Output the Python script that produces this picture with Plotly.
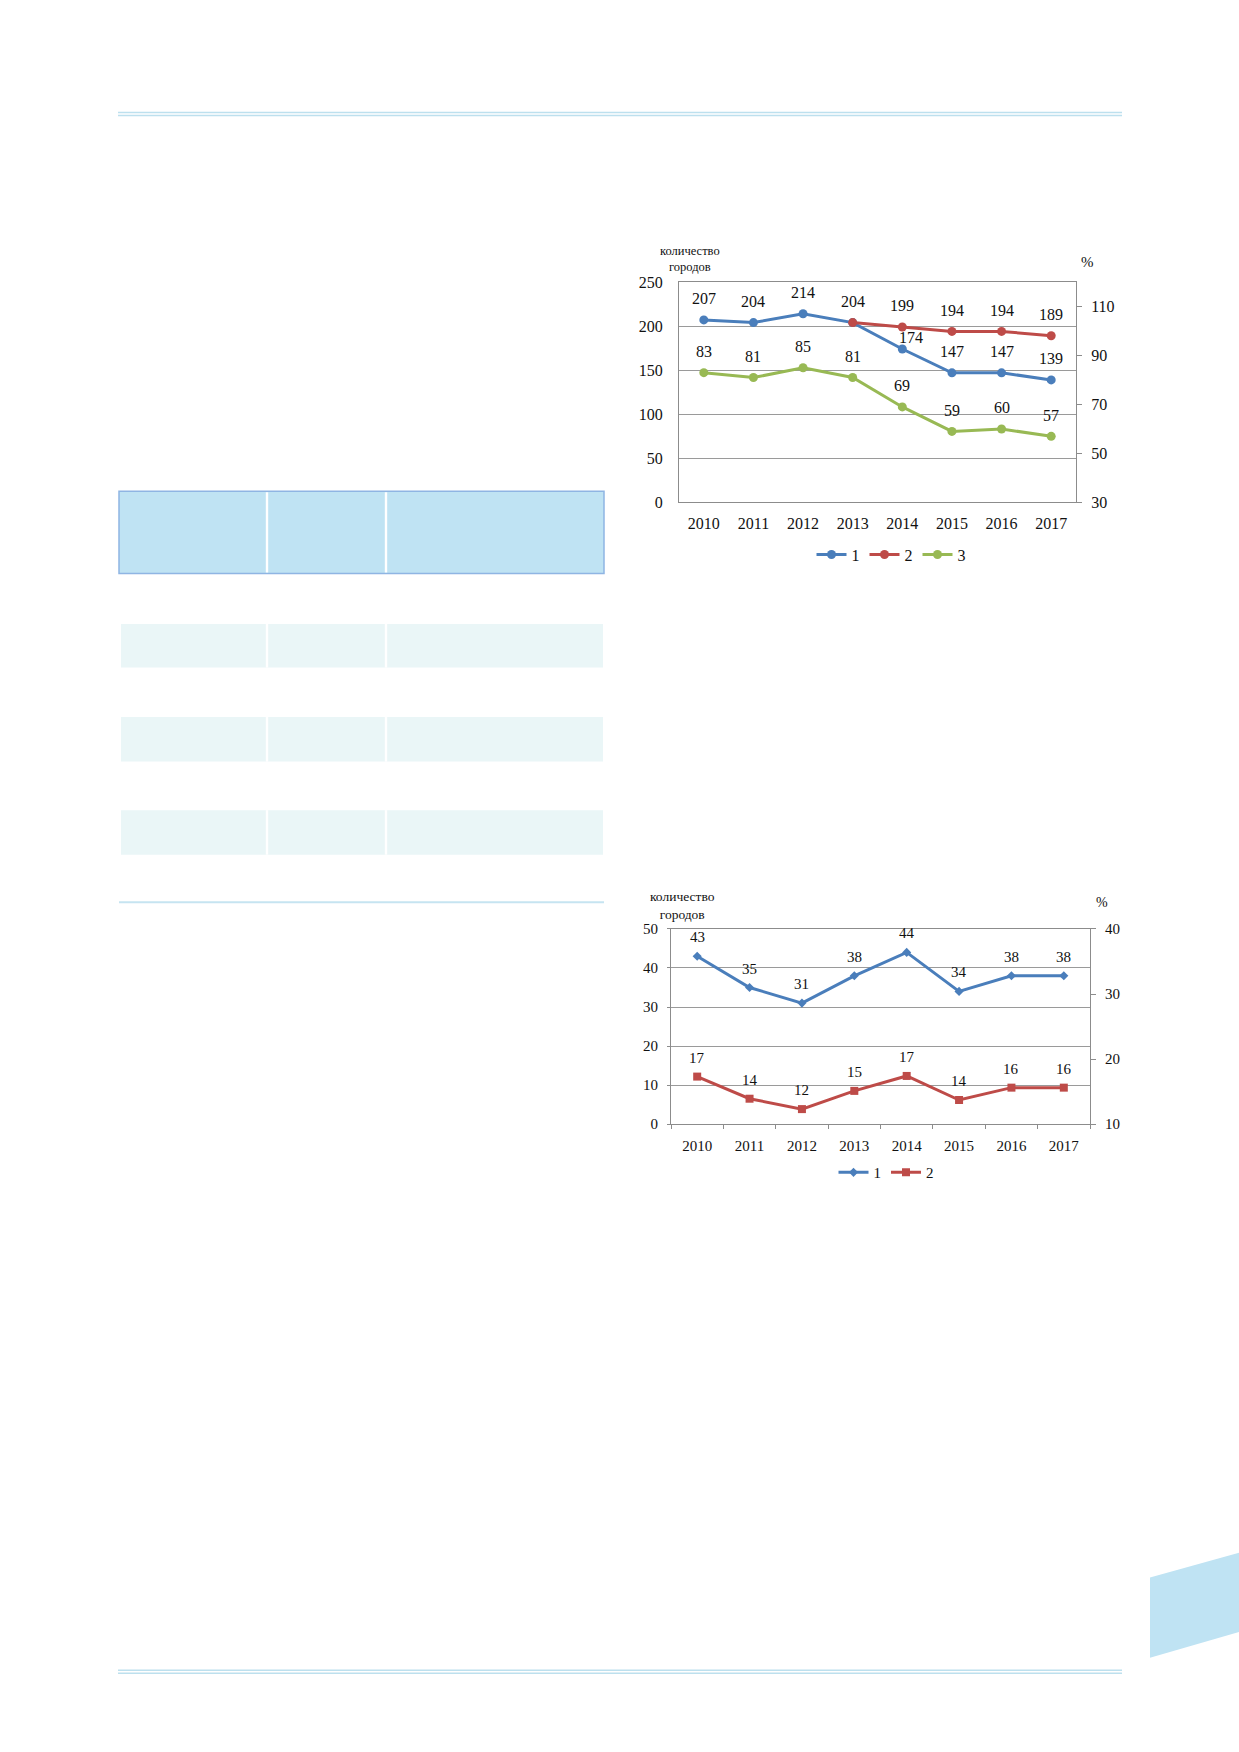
import plotly.graph_objects as go

W, H = 1239, 1752

# chart 1: cities count (left) and share, % (right)
years = ["2010", "2011", "2012", "2013", "2014", "2015", "2016", "2017"]
cities_1 = [207, 204, 214, 204, 174, 147, 147, 139]
cities_2 = [None, None, None, 204, 199, 194, 194, 189]
pct_3 = [83, 81, 85, 81, 69, 59, 60, 57]

# chart 2
cities_b1 = [43, 35, 31, 38, 44, 34, 38, 38]
pct_b2 = [17.3, 13.9, 12.3, 15.1, 17.4, 13.7, 15.6, 15.6]

pos = list(range(len(years)))  # category slots on the x axes

BLUE = "#4a7ebb"
RED = "#be4b48"
GREEN = "#98b954"
GRID = "#9a9a9a"
AXIS = "#8c8c8c"
FONT = "Liberation Serif"
PAGE_BLUE = "#bfe3f3"


def px(x):
    return x / W


def py(y):
    return 1 - y / H


fig = go.Figure()

# chart 1 traces
fig.add_trace(go.Scatter(x=pos, y=cities_1, name="1", mode="lines+markers",
                         line=dict(color=BLUE, width=3), marker=dict(size=9, color=BLUE),
                         xaxis="x", yaxis="y", legend="legend"))
fig.add_trace(go.Scatter(x=pos, y=cities_2, name="2", mode="lines+markers",
                         line=dict(color=RED, width=3), marker=dict(size=9, color=RED),
                         xaxis="x", yaxis="y", legend="legend"))
fig.add_trace(go.Scatter(x=pos, y=pct_3, name="3", mode="lines+markers",
                         line=dict(color=GREEN, width=3), marker=dict(size=9, color=GREEN),
                         xaxis="x", yaxis="y2", legend="legend"))

# chart 2 traces
fig.add_trace(go.Scatter(x=pos, y=cities_b1, name="1", mode="lines+markers",
                         line=dict(color=BLUE, width=3),
                         marker=dict(size=7, color=BLUE, symbol="diamond"),
                         xaxis="x2", yaxis="y3", legend="legend2"))
fig.add_trace(go.Scatter(x=pos, y=pct_b2, name="2", mode="lines+markers",
                         line=dict(color=RED, width=3),
                         marker=dict(size=8, color=RED, symbol="square"),
                         xaxis="x2", yaxis="y4", legend="legend2"))

annotations = []
placed = set()


def add_labels(ys, xref, yref, size, shift, nudge=None):
    nudge = nudge or {}
    for x, v in zip(pos, ys):
        if v is None:
            continue
        txt = f"{v:.0f}"
        key = (xref, x, txt)
        if key in placed:  # same point already labelled by another series
            continue
        placed.add(key)
        dx, dy = nudge.get(x, (0, shift))
        annotations.append(dict(x=x, y=v, xref=xref, yref=yref, text=txt,
                                showarrow=False, xshift=dx, yshift=dy,
                                font=dict(family=FONT, size=size, color="#111")))


add_labels(cities_1, "x", "y", 16, 21, nudge={4: (9, 12)})
add_labels(cities_2, "x", "y", 16, 21)
add_labels(pct_3, "x", "y2", 16, 21)
add_labels(cities_b1, "x2", "y3", 15, 19)
add_labels(pct_b2, "x2", "y4", 15, 19)

# axis titles
for x, y, t, s in [(690, 253, "количество<br>городов", 12.5),
                   (1087, 256, "%", 15),
                   (682, 906, "количество<br>городов", 13.5),
                   (1102, 903, "%", 14)]:
    annotations.append(dict(x=px(x), y=py(y), xref="paper", yref="paper", text=t,
                            showarrow=False, xanchor="center", yanchor="middle",
                            font=dict(family=FONT, size=s, color="#111")))

# page decoration
shapes = []


def hline(x0, x1, y, color, w):
    shapes.append(dict(type="line", xref="paper", yref="paper", x0=px(x0), x1=px(x1),
                       y0=py(y), y1=py(y), line=dict(color=color, width=w)))


def rect(x0, y0, x1, y1, fill, line=None, lw=0):
    shapes.append(dict(type="rect", xref="paper", yref="paper", x0=px(x0), x1=px(x1),
                       y0=py(y0), y1=py(y1), fillcolor=fill,
                       line=dict(color=line or fill, width=lw), layer="below"))


hline(118, 1122, 105.5, "#bde0ee", 1.5)
hline(118, 1122, 108.5, "#bde0ee", 1.5)
hline(118, 1122, 1678.5, "#bde0ee", 1.5)
hline(118, 1122, 1681.5, "#bde0ee", 1.5)

rect(119, 488, 604, 571, PAGE_BLUE, "#8fb5e3", 1.5)
for x in (267, 386):
    rect(x - 1.2, 489, x + 1.2, 570, "white")
for y0, y1 in [(622, 666), (716, 761), (810, 855)]:
    rect(121, y0, 603, y1, "#eaf6f7")
    for x in (267, 386):
        rect(x - 1.2, y0, x + 1.2, y1, "white")
hline(119, 604, 903, "#c6e4f1", 2)

shapes.append(dict(type="path", xref="paper", yref="paper",
                   path=f"M {px(1150)},{py(1585)} L {px(1239)},{py(1560)} "
                        f"L {px(1239)},{py(1640)} L {px(1150)},{py(1666)} Z",
                   fillcolor=PAGE_BLUE, line=dict(width=0), layer="below"))

tick_font = dict(family=FONT, size=16, color="#111")
tick_font2 = dict(family=FONT, size=15, color="#111")
bounds = [i - 0.5 for i in range(len(years) + 1)]

fig.update_layout(
    width=W, height=H, margin=dict(l=0, r=0, t=0, b=0),
    paper_bgcolor="white", plot_bgcolor="white",
    font=dict(family=FONT, color="#111"),
    showlegend=True,
    xaxis=dict(domain=[px(679), px(1076)], anchor="y", range=[-0.5, 7.5],
               tickvals=pos, ticktext=years, showline=True, linecolor=AXIS,
               mirror=True, ticks="", showgrid=False, zeroline=False,
               tickfont=tick_font, ticklabelstandoff=6),
    yaxis=dict(domain=[py(499.3), py(276.7)], anchor="x", range=[0, 250], dtick=50,
               showline=True, linecolor=AXIS, showgrid=True, gridcolor=GRID,
               ticks="", tickfont=tick_font, ticklabelstandoff=12, zeroline=False),
    yaxis2=dict(overlaying="y", anchor="x", side="right", range=[30, 120],
                tickvals=[30, 50, 70, 90, 110], showline=True, linecolor=AXIS,
                showgrid=False, ticks="outside", ticklen=5, tickcolor=AXIS,
                tickfont=tick_font, ticklabelstandoff=6, zeroline=False),
    xaxis2=dict(domain=[px(671), px(1090)], anchor="y3", range=[-0.5, 7.5],
                tickvals=pos, ticktext=years, showline=True, linecolor=AXIS,
                mirror=True, ticks="", showgrid=False, zeroline=False,
                minor=dict(tickmode="array", tickvals=bounds, ticks="outside",
                           ticklen=4, tickcolor=AXIS, showgrid=False),
                tickfont=tick_font2, ticklabelstandoff=8),
    yaxis3=dict(domain=[py(1127), py(930)], anchor="x2", range=[0, 50], dtick=10,
                showline=True, linecolor=AXIS, showgrid=True, gridcolor=GRID,
                ticks="outside", ticklen=3, tickcolor=AXIS,
                tickfont=tick_font2, ticklabelstandoff=6, zeroline=False),
    yaxis4=dict(overlaying="y3", anchor="x2", side="right", range=[10, 40], dtick=10,
                showline=True, linecolor=AXIS, showgrid=False, ticks="outside",
                ticklen=5, tickcolor=AXIS, tickfont=tick_font2, ticklabelstandoff=6,
                zeroline=False),
    legend=dict(orientation="h", x=px(891), y=py(552), xanchor="center",
                yanchor="middle", font=dict(family=FONT, size=16, color="#111"),
                bgcolor="rgba(0,0,0,0)", itemwidth=30),
    legend2=dict(orientation="h", x=px(886), y=py(1176), xanchor="center",
                 yanchor="middle", font=dict(family=FONT, size=15, color="#111"),
                 bgcolor="rgba(0,0,0,0)", itemwidth=30),
    annotations=annotations,
    shapes=shapes,
)

fig.write_html("out.html", config={"displayModeBar": False},
               post_script="document.body.style.margin='0';"
                           "document.documentElement.style.overflow='hidden';")
